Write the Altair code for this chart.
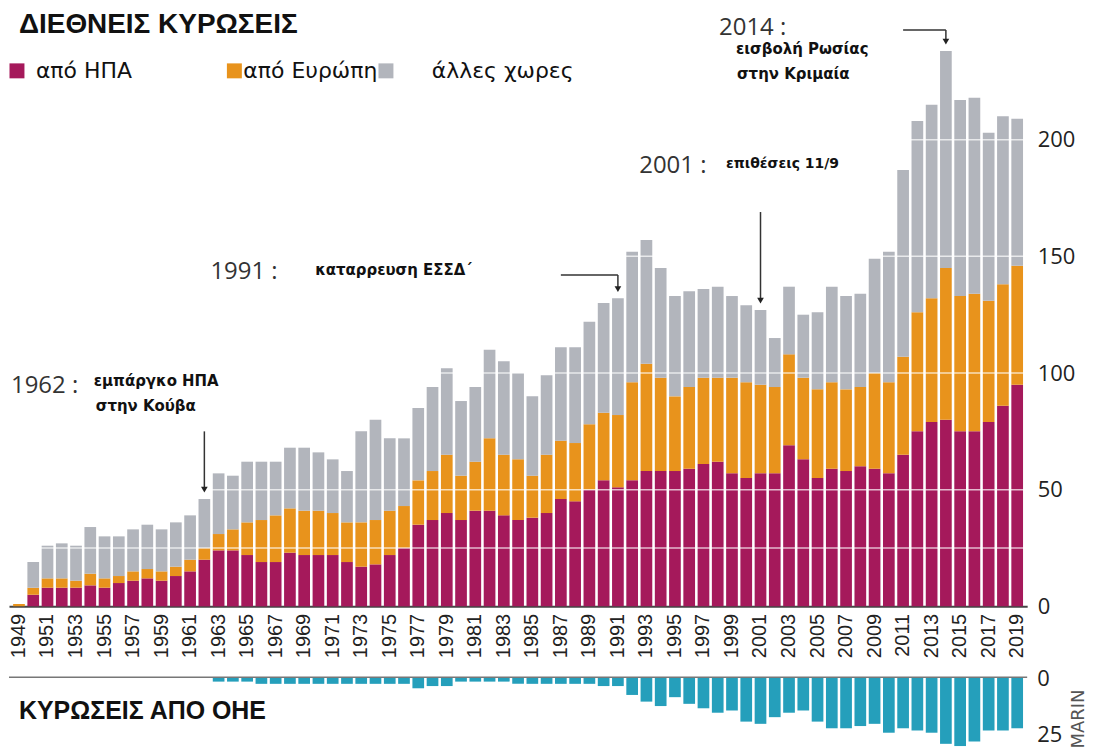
import altair as alt
import pandas as pd

# ---------------- data ----------------
years = list(range(1949, 2020))
usa = [0, 5, 8, 8, 8, 9, 8, 10, 11, 12, 11, 13, 15, 20, 24, 24, 22, 19, 19, 23,
       22, 22, 22, 19, 17, 18, 22, 25, 35, 37, 40, 37, 41, 41, 39, 37, 38, 40, 46, 45,
       50, 54, 51, 54, 58, 58, 58, 59, 61, 62, 57, 55, 57, 57, 69, 63, 55, 59, 58, 60,
       59, 57, 65, 75, 79, 80, 75, 75, 79, 86, 95]
europe = [1, 3, 4, 4, 3, 5, 4, 3, 4, 4, 4, 4, 5, 5, 7, 9, 14, 18, 20, 19,
          19, 19, 18, 17, 19, 19, 19, 18, 19, 21, 25, 19, 21, 31, 26, 26, 18, 25, 25, 25,
          28, 29, 31, 42, 46, 40, 32, 35, 37, 36, 41, 41, 38, 37, 39, 35, 38, 37, 35, 34,
          41, 39, 42, 51, 53, 65, 58, 59, 52, 52, 51]
other = [0, 11, 14, 15, 15, 20, 18, 17, 18, 19, 18, 19, 19, 21, 26, 23, 26, 25, 23, 26,
         27, 25, 23, 22, 39, 43, 31, 29, 31, 36, 37, 32, 32, 38, 40, 37, 34, 34, 40, 41,
         44, 47, 50, 56, 53, 47, 43, 41, 38, 39, 35, 33, 32, 21, 29, 27, 33, 41, 40, 40,
         49, 56, 80, 82, 83, 93, 84, 84, 72, 72, 63]
un = [0] * 14 + [2, 2, 2] + [3] * 11 + [5, 4, 4] + [2] * 4 + [3] * 6 + \
     [4, 4, 8, 11, 13, 9, 12, 14, 16, 15, 20, 21, 18, 16, 15, 20, 23, 23, 22, 21,
      25, 23, 24, 25, 30, 31, 29, 24, 24, 23]
assert len(usa) == len(europe) == len(other) == len(un) == len(years)

series_names = ["από ΗΠΑ", "από Ευρώπη", "άλλες χωρες"]
series_colors = ["#a5195b", "#e8931c", "#b2b5bc"]
un_color = "#259fbb"
y_ticks = [0, 50, 100, 150, 200]
grid_values = [25, 50, 100, 150, 200]
un_ticks = [0, 25]
un_tick_labels = ["0", "25"]
year_labels = years[::2]

title_text = "ΔΙΕΘΝΕΙΣ ΚΥΡΩΣΕΙΣ"
un_title = "ΚΥΡΩΣΕΙΣ ΑΠΟ ΟΗΕ"
credit = "MARIN"

ann_years = [1962, 1991, 2001, 2014]
ann_labels = ["1962 :", "1991 :", "2001 :", "2014 :"]
ann_texts = [["εμπάργκο ΗΠΑ", "στην Κούβα"], ["καταρρευση ΕΣΣΔ΄"],
             ["επιθέσεις 11/9"], ["εισβολή Ρωσίας", "στην Κριμαία"]]

# ---------------- tables ----------------
rows = []
for i, yr in enumerate(years):
    for k, vals in enumerate([usa, europe, other]):
        rows.append({"year": yr, "series": series_names[k], "value": vals[i], "ord": k})
df = pd.DataFrame(rows)
totals = {yr: usa[i] + europe[i] + other[i] for i, yr in enumerate(years)}

un_df = pd.DataFrame({"year": years, "un": un})
un_df = un_df[un_df["un"] > 0]

# arrow geometry (value units on the main scale)
arrow_tops = [75, 142, 169, 247]
arrow_df = pd.DataFrame({
    "year": ann_years,
    "top": arrow_tops,
    "tip": [totals[y] + 4 for y in ann_years],
})
harrow_df = pd.DataFrame({"hstart": [1987, 2011], "year": [1991, 2014], "level": [142, 247]})

# ---------------- encodings ----------------
X = alt.X(
    "year:O",
    title=None,
    scale=alt.Scale(paddingInner=0.18, paddingOuter=0.29),
    axis=alt.Axis(
        values=year_labels, labelAngle=270, labelFont="Liberation Sans", labelFontSize=20,
        labelColor="#222", ticks=False, domainColor="#444", domainWidth=2,
        labelPadding=7, grid=False, title=None,
    ),
)
main_scale = alt.Scale(domain=[0, 256], nice=False, zero=True)

bars = alt.Chart(df).mark_bar().encode(
    x=X,
    y=alt.Y(
        "value:Q", stack="zero", scale=main_scale, title=None,
        axis=alt.Axis(orient="right", values=y_ticks, labelFont="Open Sans", labelFontSize=22,
                      labelColor="#222", ticks=False, domain=False, grid=False,
                      labelPadding=10, title=None),
    ),
    color=alt.Color("series:N", scale=alt.Scale(domain=series_names, range=series_colors), legend=None),
    order=alt.Order("ord:Q", sort="ascending"),
)

grid = alt.Chart(pd.DataFrame({"value": grid_values})).mark_rule(
    color="white", strokeWidth=1.5, opacity=0.7
).encode(y=alt.Y("value:Q", title=None))

arrows_v = alt.Chart(arrow_df).mark_rule(color="#333", strokeWidth=1.5).encode(
    x=X, y=alt.Y("top:Q", title=None), y2="tip:Q"
)
arrows_h = alt.Chart(harrow_df).mark_rule(color="#333", strokeWidth=1.5).encode(
    x=alt.X("hstart:O", title=None), x2="year:O", y=alt.Y("level:Q", title=None)
)
heads = alt.Chart(arrow_df).mark_point(
    shape="triangle-down", filled=True, size=45, color="#222", opacity=1
).encode(x=X, y=alt.Y("tip:Q", title=None))


def txt(t, x, y, size, font="DejaVu Sans", weight="normal", color="#111", angle=0, align="left"):
    return alt.Chart(pd.DataFrame({"t": [t]})).mark_text(
        align=align, baseline="middle", font=font, fontSize=size, fontWeight=weight,
        color=color, angle=angle,
    ).encode(x=alt.value(x), y=alt.value(y), text="t:N")


texts = [txt(title_text, 10, 16, 28, font="Liberation Sans", weight="bold", color="#111")]

# manual legend
legend_sq_x = [8, 226, 378]
legend_tx_x = [27, 235, 424]
for k in range(3):
    texts.append(
        alt.Chart(pd.DataFrame({"series": [series_names[k]]})).mark_square(
            size=225, filled=True, opacity=1
        ).encode(
            x=alt.value(legend_sq_x[k]), y=alt.value(62),
            color=alt.Color("series:N", scale=alt.Scale(domain=series_names, range=series_colors), legend=None),
        )
    )
    texts.append(txt(series_names[k], legend_tx_x[k], 62, 22, color="#111"))

# annotations
ann_year_pos = [(2, 378), (202, 264), (632, 157), (712, 19)]
ann_text_pos = [[(85, 373), (87, 398)], [(307, 262)], [(719, 155)], [(729, 40), (730, 65)]]
ann_text_size = [15, 15, 14, 15]
for k in range(4):
    texts.append(txt(ann_labels[k], ann_year_pos[k][0], ann_year_pos[k][1], 24,
                     font="Open Sans", color="#333"))
    for line, (px, py) in zip(ann_texts[k], ann_text_pos[k]):
        texts.append(txt(line, px, py, ann_text_size[k], weight="bold", color="#111"))

texts.append(txt(un_title, 10, 704, 25, font="Liberation Sans", weight="bold", color="#111"))
texts.append(txt(credit, 1073, 712, 18, color="#555", angle=270, align="center"))

main_layer = alt.layer(bars, grid, arrows_v, arrows_h, heads, *texts)

# UN panel with its own y scale placed below the year labels
UN_Y = alt.Y("un:Q", title=None, axis=None,
             scale=alt.Scale(domain=[0, 25], range=[670, 725.7], nice=False, zero=True))
un_bars = alt.Chart(un_df).mark_bar(color=un_color).encode(x=X, y=UN_Y)
un_base = alt.Chart(pd.DataFrame({"un": [0]})).mark_rule(color="#777", strokeWidth=1.5).encode(y=UN_Y)
un_lab = alt.Chart(pd.DataFrame({"un": un_ticks, "label": un_tick_labels})).mark_text(
    align="left", baseline="middle", font="Open Sans", fontSize=22, color="#222", dy=2
).encode(x=alt.value(1031), y=UN_Y, text="label:N")
un_layer = alt.layer(un_bars, un_base, un_lab)

chart = alt.layer(main_layer, un_layer).resolve_scale(y="independent").properties(
    width=1021, height=599, padding=0, background="white"
).configure_view(stroke=None)

chart.save("out.html", embed_options={"renderer": "svg", "actions": False})
